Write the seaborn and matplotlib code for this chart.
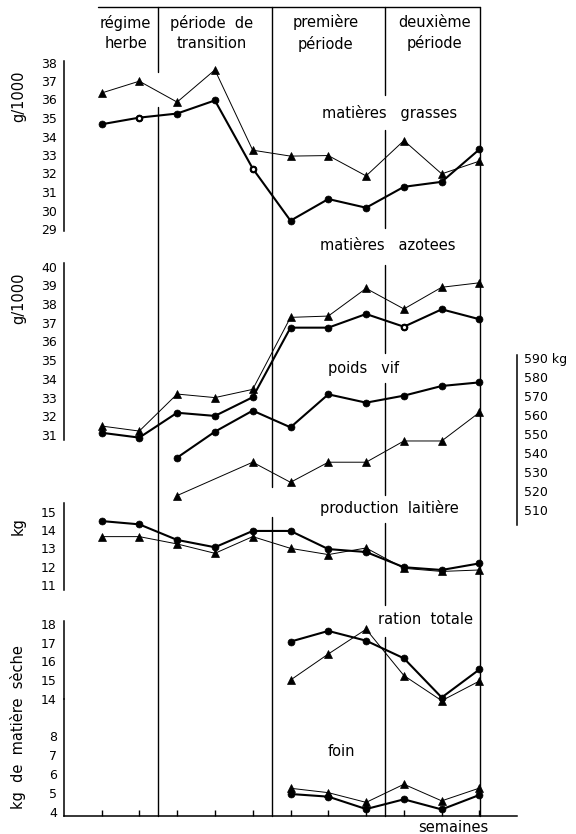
import seaborn as sns
import matplotlib.pyplot as plt

sns.set_style("white")
plt.rcParams['font.family'] = ['DejaVu Sans']
plt.rcParams['text.color'] = 'k'
plt.rcParams['xtick.color'] = 'k'
plt.rcParams['ytick.color'] = 'k'
plt.rcParams['axes.labelcolor'] = 'k'

# weeks (semaines)
weeks = list(range(1, 12))
weeks_pv_circ = list(range(3, 12))
weeks_pv_tri = [3, 5, 6, 7, 8, 9, 10, 11]
weeks_ration = list(range(6, 12))

# matières grasses (g/1000)
mg_circ = [34.66, 35.02, 35.24, 35.95, 32.27, 29.45, 30.62, 30.15, 31.28, 31.55, 33.31]
mg_tri = [36.35, 36.99, 35.86, 37.60, 33.26, 32.94, 32.97, 31.87, 33.78, 31.98, 32.67]
mg_open = [2, 5]

# matières azotées (g/1000)
ma_circ = [31.12, 30.86, 32.19, 32.02, 33.02, 36.74, 36.74, 37.47, 36.79, 37.72, 37.19]
ma_tri = [31.48, 31.21, 33.19, 33.00, 33.44, 37.29, 37.36, 38.84, 37.74, 38.90, 39.14]
ma_open = [9]

# poids vif (kg)
pv_circ = [537.6, 551.3, 562.4, 553.6, 571.0, 566.6, 570.3, 575.4, 577.3]
pv_tri = [517.6, 535.2, 524.6, 535.2, 535.2, 546.4, 546.4, 561.5]

# production laitière (kg)
pl_circ = [14.49, 14.31, 13.46, 13.06, 13.95, 13.95, 12.96, 12.80, 11.97, 11.82, 12.18]
pl_tri = [13.64, 13.64, 13.24, 12.73, 13.64, 13.00, 12.66, 13.02, 11.91, 11.74, 11.82]

# ration totale / foin (kg de matière sèche)
rt_circ = [17.06, 17.63, 17.11, 16.17, 14.08, 15.58]
rt_tri = [15.01, 16.40, 17.72, 15.25, 13.91, 14.96]
fo_circ = [4.96, 4.82, 4.17, 4.68, 4.15, 4.91]
fo_tri = [5.26, 5.03, 4.52, 5.47, 4.60, 5.27]

W, H = 576, 834
X0, X1 = 63.7, 517.3
kx = (X1 - X0) / 12

fig = plt.figure(figsize=(W / 100, H / 100), dpi=100)

# background layer: period frame and texts (x in weeks, y in pixels)
bg = fig.add_axes([0, 0, 1, 1])
bg.set_xlim(-X0 / kx, (W - X0) / kx)
bg.set_ylim(H, 0)
bg.axis('off')

period_lines = {
    2.5: [(7, 72), (107, 816)],
    5.5: [(7, 487), (517, 816)],
    8.5: [(7, 95), (130, 228), (265, 353), (383, 495), (523, 605), (637, 816)],
    11: [(7, 816)],
}
for xe, segs in period_lines.items():
    for y0, y1 in segs:
        bg.plot([xe, xe], [y0, y1], color='k', lw=1.0)
bg.plot([0.9, 11], [7, 7], color='k', lw=1.0)

headers = ["régime\nherbe", "période  de\ntransition", "première\npériode", "deuxième\npériode"]
header_x = [1.64, 3.92, 6.92, 9.8]
for hx, txt in zip(header_x, headers):
    bg.text(hx, 33, txt, ha='center', va='center', fontsize=10.5, linespacing=1.45)

labels = [
    (8.61, 113, "matières   grasses"),
    (8.58, 245, "matières   azotees"),
    (7.94, 368, "poids   vif"),
    (8.61, 508, "production  laitière"),
    (9.57, 620, "ration  totale"),
    (7.35, 752, "foin"),
    (10.3, 827, "semaines"),
]
for lx, ly, txt in labels:
    bg.text(lx, ly, txt, ha='center', va='center', fontsize=10.5)

for ly, txt in [(96, "g/1000"), (298, "g/1000"), (526, "kg"), (727, "kg  de  matière  sèche")]:
    bg.text(-1.2, ly, txt, ha='center', va='center', rotation=90, fontsize=10.5)


def panel(top, bot, v_hi, y_hi, v_lo, y_lo, side='left'):
    ax = fig.add_axes([X0 / W, 1 - bot / H, (X1 - X0) / W, (bot - top) / H])
    k = (y_lo - y_hi) / (v_hi - v_lo)
    ax.set_xlim(0, 12)
    ax.set_ylim(v_lo - (bot - y_lo) / k, v_hi + (y_hi - top) / k)
    ax.patch.set_visible(False)
    for s in ax.spines.values():
        s.set_visible(False)
    ax.spines[side].set_visible(True)
    ax.spines[side].set_linewidth(1.1)
    ax.spines[side].set_color('k')
    ax.set_xticks([])
    ax.yaxis.set_ticks_position(side)
    ax.tick_params(axis='y', length=0, pad=5, labelsize=9, colors='k')
    return ax


def draw(ax, xc, yc, xt, yt):
    sns.lineplot(x=xc, y=yc, ax=ax, color='k', lw=1.5, marker='o', ms=5,
                 markeredgecolor='k', markeredgewidth=0.5, clip_on=False)
    sns.lineplot(x=xt, y=yt, ax=ax, color='k', lw=0.7, marker='^', ms=5.5,
                 markeredgecolor='k', markeredgewidth=0.5, clip_on=False)
    ax.set_xlabel('')
    ax.set_ylabel('')


def open_pts(ax, xs, ys):
    sns.scatterplot(x=xs, y=[ys[w - 1] for w in xs], ax=ax, color='white',
                    edgecolor='k', linewidth=1.4, s=14, zorder=5, clip_on=False)


# matières grasses
ax1 = panel(61, 231, 38, 62.5, 29, 229)
draw(ax1, weeks, mg_circ, weeks, mg_tri)
open_pts(ax1, mg_open, mg_circ)
ax1.set_yticks(range(29, 39))

# matières azotées
ax2 = panel(263, 440, 40, 266.7, 31, 435)
draw(ax2, weeks, ma_circ, weeks, ma_tri)
open_pts(ax2, ma_open, ma_circ)
ax2.set_yticks(range(31, 41))

# poids vif (right axis)
ax3 = panel(355, 525, 590, 358.3, 510, 510, side='right')
draw(ax3, weeks_pv_circ, pv_circ, weeks_pv_tri, pv_tri)
pv_ticks = list(range(510, 600, 10))
ax3.set_yticks(pv_ticks)
ax3.set_yticklabels([str(t) for t in pv_ticks[:-1]] + ["590 kg"])

# production laitière
ax4 = panel(503, 590, 15, 511.7, 11, 585)
draw(ax4, weeks, pl_circ, weeks, pl_tri)
ax4.set_yticks(range(11, 16))

# ration totale
ax5 = panel(621, 699, 18, 624, 14, 699)
draw(ax5, weeks_ration, rt_circ, weeks_ration, rt_tri)
ax5.set_yticks(range(14, 19))

# foin + time axis
ax6 = panel(699, 815.5, 8, 736, 4, 812.3)
draw(ax6, weeks_ration, fo_circ, weeks_ration, fo_tri)
ax6.set_yticks(range(4, 9))
ax6.spines['bottom'].set_visible(True)
ax6.spines['bottom'].set_linewidth(1.1)
ax6.spines['bottom'].set_color('k')
ax6.set_xticks(weeks)
ax6.tick_params(axis='x', direction='in', length=4, width=1, labelbottom=False, bottom=True, colors='k')

fig.savefig('out.png', dpi=100)
